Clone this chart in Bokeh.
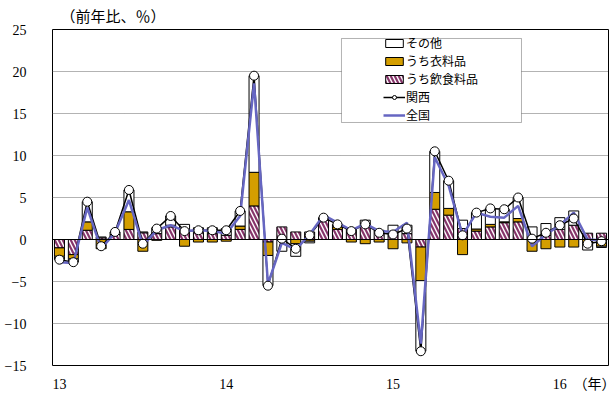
import numpy as np
from bokeh.plotting import figure
from bokeh.models import (ColumnDataSource, Range1d, FixedTicker, Legend, LegendItem,
                          Span, BoxAnnotation)
from bokeh.embed import file_html
from bokeh.resources import INLINE

# Monthly, 2013-01 .. 2016-04 (year-on-year change, %)
months = [f"{y}-{m:02d}" for y in (2013, 2014, 2015, 2016) for m in range(1, 13)][:40]
tick_idx = [0, 12, 24, 36, 39]
tick_labels = ["13", "14", "15", "16", "（年）"]

kansai = [-2.4, -2.7, 4.5, -0.8, 0.9, 5.9, -0.5, 1.3, 2.8, 1.0,
          1.1, 1.1, 1.1, 3.4, 19.5, -5.5, 0.1, -1.1, 0.5, 2.6,
          1.8, 1.0, 1.8, 0.8, 0.6, 1.3, -13.3, 10.5, 7.0, 0.5,
          3.2, 3.7, 3.6, 5.0, 0.1, 0.8, 1.7, 2.5, -0.5, -0.2]

zenkoku = [-2.7, -2.8, 3.8, -1.1, 0.8, 4.7, -0.7, 1.1, 1.7, 1.0,
           1.1, 1.0, 0.7, 2.8, 18.6, -5.3, -0.4, -1.2, 0.6, 2.9,
           2.0, 1.1, 1.9, 1.0, 0.9, 2.0, -12.4, 9.8, 6.4, 0.5,
           3.2, 2.7, 2.6, 4.0, -0.8, 0.6, 1.7, 3.2, 0.0, -0.1]

food = [-1.0, -1.8, 1.1, 0.2, 0.6, 1.2, 0.8, 0.7, 1.5, 1.0,
        0.8, 0.7, 0.5, 1.2, 4.0, -0.3, 1.5, 0.9, 0.9, 2.3,
        1.2, 0.9, 1.9, 0.9, 0.9, 0.7, -0.9, 3.6, 2.9, 1.3,
        1.0, 1.5, 2.0, 2.1, 0.3, 0.5, 1.2, 1.7, 0.75, 0.75]

clothing = [-1.0, -0.5, 1.0, -1.1, 0.0, 2.1, -1.4, -0.1, 0.2, -0.8,
            -0.3, -0.3, -0.2, 0.4, 4.0, -1.6, -0.1, -0.5, -0.2, 0.0,
            0.3, -0.3, -0.5, -0.3, -1.1, -0.4, -4.0, 2.0, 0.8, -1.8,
            0.25, 0.3, 0.1, 0.4, -1.4, -1.1, -0.9, -0.9, -0.6, -0.8]

other = [-0.4, -0.4, 2.4, 0.1, 0.3, 2.6, 0.1, 0.7, 1.1, 0.8,
         0.6, 0.7, 0.8, 1.8, 11.5, -3.6, -1.3, -1.5, -0.2, 0.3,
         0.3, 0.4, 0.4, 0.2, 0.8, 1.0, -8.4, 4.9, 3.3, 1.0,
         1.95, 1.9, 1.5, 2.5, 1.2, 1.4, 1.4, 1.7, -0.65, -0.15]

x = np.arange(len(months))

SERIF = "Liberation Serif, Noto Sans CJK JP"

p = figure(width=615, height=394, output_backend="svg", toolbar_location=None,
           x_range=Range1d(-0.5, 39.5), y_range=Range1d(-15, 25),
           min_border_left=52, min_border_right=7, min_border_top=29, min_border_bottom=29,
           background_fill_color="white", border_fill_color="white",
           title="（前年比、％）")
p.outline_line_color = "black"
p.outline_line_width = 1

p.title.align = "left"
p.title.offset = 8
p.title.standoff = 10
p.title.text_font = SERIF
p.title.text_font_size = "15px"
p.title.text_font_style = "normal"
p.title.text_color = "black"

# axes
p.yaxis.ticker = FixedTicker(ticks=list(range(-15, 26, 5)))
p.yaxis.axis_line_color = None
p.yaxis.major_tick_line_color = None
p.yaxis.minor_tick_line_color = None
p.yaxis.major_label_standoff = 20
p.yaxis.major_label_text_font = SERIF
p.yaxis.major_label_text_font_size = "14px"
p.yaxis.major_label_text_color = "black"

p.xaxis.ticker = FixedTicker(ticks=tick_idx)
p.xaxis.major_label_overrides = {i: t for i, t in zip(tick_idx, tick_labels)}
p.xaxis.axis_line_color = None
p.xaxis.major_tick_line_color = None
p.xaxis.minor_tick_line_color = None
p.xaxis.major_label_standoff = 5
p.xaxis.major_label_text_font = SERIF
p.xaxis.major_label_text_font_size = "14px"
p.xaxis.major_label_text_color = "black"

p.xgrid.grid_line_color = None
p.ygrid.ticker = FixedTicker(ticks=[-10, -5, 5, 10, 15, 20])
p.ygrid.grid_line_color = "#666666"
p.ygrid.grid_line_dash = "1 1"
p.ygrid.grid_line_width = 1

# stacked contribution bars (positive and negative parts stacked separately)
pos_base = np.zeros(len(x))
neg_base = np.zeros(len(x))
styles = {
    "food": dict(fill_color="white", hatch_pattern="left_diagonal_line",
                 hatch_color="#86356A", hatch_weight=2.2, hatch_scale=8),
    "clothing": dict(fill_color="#D49E00"),
    "other": dict(fill_color="white"),
}
bar_r = {}
for name, vals in (("food", food), ("clothing", clothing), ("other", other)):
    v = np.array(vals, dtype=float)
    bottom = np.where(v >= 0, pos_base, neg_base)
    top = bottom + v
    pos_base = np.where(v >= 0, top, pos_base)
    neg_base = np.where(v < 0, top, neg_base)
    src = ColumnDataSource(dict(x=x, bottom=bottom, top=top))
    bar_r[name] = p.vbar(x="x", bottom="bottom", top="top", width=0.72, source=src,
                         line_color="black", line_width=1, **styles[name])

p.add_layout(Span(location=0, dimension="width", line_color="black", line_width=1))

line_src = ColumnDataSource(dict(x=x, kansai=kansai, zenkoku=zenkoku))
kl = p.line("x", "kansai", source=line_src, line_color="black", line_width=1.5)
zl = p.line("x", "zenkoku", source=line_src, line_color="#6666C2", line_width=2.5)
ks = p.scatter("x", "kansai", source=line_src, size=9, marker="circle",
               fill_color="white", line_color="black", line_width=1)

# legend frame and entries
p.add_layout(BoxAnnotation(left=20.29, right=33.24, bottom=13.93, top=23.93,
                           fill_color="white", fill_alpha=1,
                           line_color="black", line_width=1))
legend = Legend(items=[
    LegendItem(label="その他", renderers=[bar_r["other"]]),
    LegendItem(label="うち衣料品", renderers=[bar_r["clothing"]]),
    LegendItem(label="うち飲食料品", renderers=[bar_r["food"]]),
    LegendItem(label="関西", renderers=[kl, ks]),
    LegendItem(label="全国", renderers=[zl]),
], location=(329, 239), orientation="vertical")
legend.border_line_alpha = 0
legend.background_fill_alpha = 0
legend.padding = 2
legend.spacing = 0
legend.margin = 0
legend.label_height = 16
legend.glyph_height = 10
legend.glyph_width = 22
legend.label_standoff = 1
legend.label_text_font = SERIF
legend.label_text_font_size = "12px"
legend.label_text_line_height = 1.0
legend.label_text_color = "black"
p.add_layout(legend)

open("out.html", "w").write(file_html(p, INLINE))
